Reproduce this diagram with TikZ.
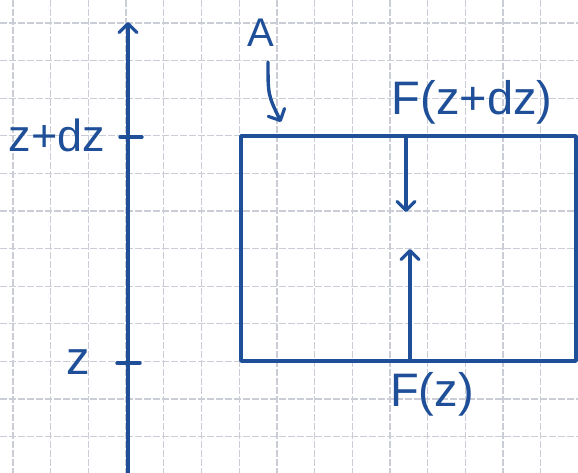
\documentclass[tikz,border=0pt]{standalone}
\usepackage{fontspec}
\setmainfont{Liberation Sans}
\usetikzlibrary{arrows.meta}
\definecolor{ink}{HTML}{1E4F98}
\definecolor{gridc}{HTML}{CACDD6}
\begin{document}
\begin{tikzpicture}[x=1pt,y=-1pt,
  ink line/.style={draw=ink,line width=3.4pt,line cap=round,line join=round},
  arr/.style={ink line,-{Straight Barb[length=9pt,width=18pt,line width=3.2pt,round]}},
  lab/.style={text=ink,inner sep=0pt,font=\fontsize{40}{40}\selectfont},
  big/.style={font=\fontsize{47}{47}\selectfont},
  gridline/.style={draw=gridc,line width=1.3pt,dash pattern=on 7pt off 2pt}]
\useasboundingbox (0,0) rectangle (578,473);
\fill[white] (0,0) rectangle (578,473);
% grid
\foreach \k in {0,...,15} \draw[gridline] ({13+37.7*\k},0) -- ({13+37.7*\k},473);
\foreach \k in {0,...,12} \draw[gridline] (0,{23+37.6*\k}) -- (578,{23+37.6*\k});
% axis
\coordinate (axb) at (128,475);
\coordinate (axt) at (128,22);
\draw[arr] (axb) -- (axt);
\coordinate (t1a) at (120,137); \coordinate (t1b) at (142,137);
\coordinate (t2a) at (117,363); \coordinate (t2b) at (140,363);
\draw[ink line] (t1a) -- (t1b);
\draw[ink line] (t2a) -- (t2b);
\node[lab,font=\fontsize{45}{45}\selectfont] (lzdz) at (57,135) {z+dz};
\node[lab,big] (lz) at (78,362) {z};
% box
\node[ink line,minimum width=335pt,minimum height=225pt,inner sep=0pt] (box) at (408.5,248.5) {};
% A label
\node[lab] (lA) at (261,33) {A};
\coordinate (a1) at (268,62);
\coordinate (a2) at (281,122);
\draw[arr] (a1) .. controls (268,95) .. (a2);
% forces
\coordinate (d1) at (406,136); \coordinate (d2) at (406,212);
\draw[arr] (d1) -- (d2);
\coordinate (u1) at (410,361); \coordinate (u2) at (410,249);
\draw[arr] (u1) -- (u2);
\node[lab,big] (lFdz) at (472,102) {F(z+dz)};
\node[lab,big] (lFz) at (432,394) {F(z)};
\end{tikzpicture}
\end{document}
